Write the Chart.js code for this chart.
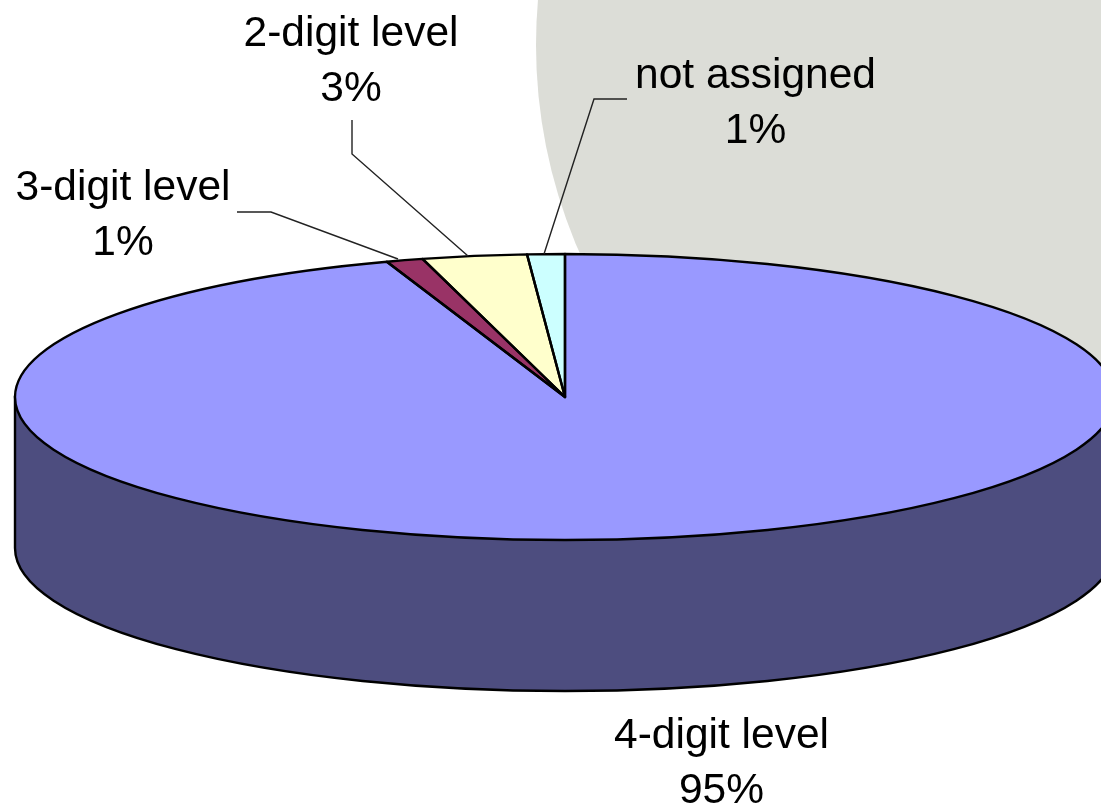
<!DOCTYPE html>
<html>
<head>
<meta charset="utf-8">
<title>Pie</title>
<script src="https://cdn.jsdelivr.net/npm/chart.js@4"></script>
<style>
  html, body { margin: 0; padding: 0; background: #fff; }
  canvas { display: block; }
</style>
</head>
<body>
<canvas id="pieChart" width="1101" height="806"></canvas>
<script>
// values (wedge angles), labels round to 95/1/3/1
const categories = ['4-digit level', '3-digit level', '2-digit level', 'not assigned'];
const shares = [94.75, 1.08, 3.07, 1.10];

const sliceColors = ['#9999FF', '#993366', '#FFFFCC', '#CCFFFF'];
const sideColor = '#4D4D7F';

// where the flattened pie sits on the page
const pieX = 565, pieY = 397, pieRx = 550, pieRy = 143, pieDepth = 151;

// label anchor and leader line for each category
const labelBoxes = [
    { x: 721.5, y: 748, line: null },
    { x: 123, y: 200, line: [[237, 212], [271, 212], [398, 259]] },
    { x: 351, y: 46, line: [[352, 120], [352, 154], [468, 256]] },
    { x: 755.5, y: 88, line: [[627, 99], [594, 99], [544, 254]] }
];

const pie3d = {
    id: 'pie3d',
    beforeDraw(chart) {
        // grey circle behind the pie
        const ctx = chart.ctx;
        ctx.save();
        ctx.fillStyle = '#DCDDD7';
        ctx.beginPath();
        ctx.arc(1054, 45, 518, 0, Math.PI * 2);
        ctx.fill();
        ctx.restore();
    },
    beforeDatasetsDraw(chart) {
        const ctx = chart.ctx;
        const first = chart.getDatasetMeta(0).data[0];

        // side wall
        ctx.save();
        ctx.fillStyle = sideColor;
        ctx.strokeStyle = '#000';
        ctx.lineWidth = 2.4;
        ctx.beginPath();
        ctx.moveTo(pieX - pieRx, pieY);
        ctx.lineTo(pieX - pieRx, pieY + pieDepth);
        ctx.ellipse(pieX, pieY + pieDepth, pieRx, pieRy, 0, Math.PI, 0, true);
        ctx.lineTo(pieX + pieRx, pieY);
        ctx.closePath();
        ctx.fill();
        ctx.stroke();
        ctx.restore();

        // squash the library's round pie into the top ellipse
        ctx.save();
        ctx.translate(pieX, pieY);
        ctx.scale(pieRx / first.outerRadius, pieRy / first.outerRadius);
        ctx.translate(-first.x, -first.y);
    },
    afterDatasetsDraw(chart) {
        const ctx = chart.ctx;
        ctx.restore();

        // outlines are stroked here so the line width isn't squashed too
        ctx.save();
        ctx.strokeStyle = '#000';
        ctx.lineWidth = 2.4;
        ctx.lineJoin = 'round';
        chart.getDatasetMeta(0).data.forEach(arc => {
            ctx.beginPath();
            ctx.moveTo(pieX, pieY);
            ctx.ellipse(pieX, pieY, pieRx, pieRy, 0, arc.startAngle, arc.endAngle);
            ctx.closePath();
            ctx.stroke();
        });
        ctx.restore();

        // leader lines and labels
        ctx.save();
        ctx.font = '42.5px "Liberation Sans", Arial, sans-serif';
        ctx.fillStyle = '#000';
        ctx.textAlign = 'center';
        ctx.textBaseline = 'alphabetic';
        categories.forEach((name, i) => {
            const box = labelBoxes[i];
            if (box.line) {
                ctx.strokeStyle = '#222';
                ctx.lineWidth = 1.4;
                ctx.beginPath();
                box.line.forEach((p, k) => k ? ctx.lineTo(p[0], p[1]) : ctx.moveTo(p[0], p[1]));
                ctx.stroke();
            }
            ctx.fillText(name, box.x, box.y);
            ctx.fillText(Math.round(shares[i]) + '%', box.x, box.y + 55);
        });
        ctx.restore();
    }
};

new Chart(document.getElementById('pieChart').getContext('2d'), {
    type: 'pie',
    data: {
        labels: categories,
        datasets: [{
            data: shares,
            backgroundColor: sliceColors,
            borderWidth: 0,
            clip: false
        }]
    },
    options: {
        responsive: false,
        animation: false,
        events: [],
        plugins: {
            legend: { display: false },
            tooltip: { enabled: false }
        }
    },
    plugins: [pie3d]
});
</script>
</body>
</html>
